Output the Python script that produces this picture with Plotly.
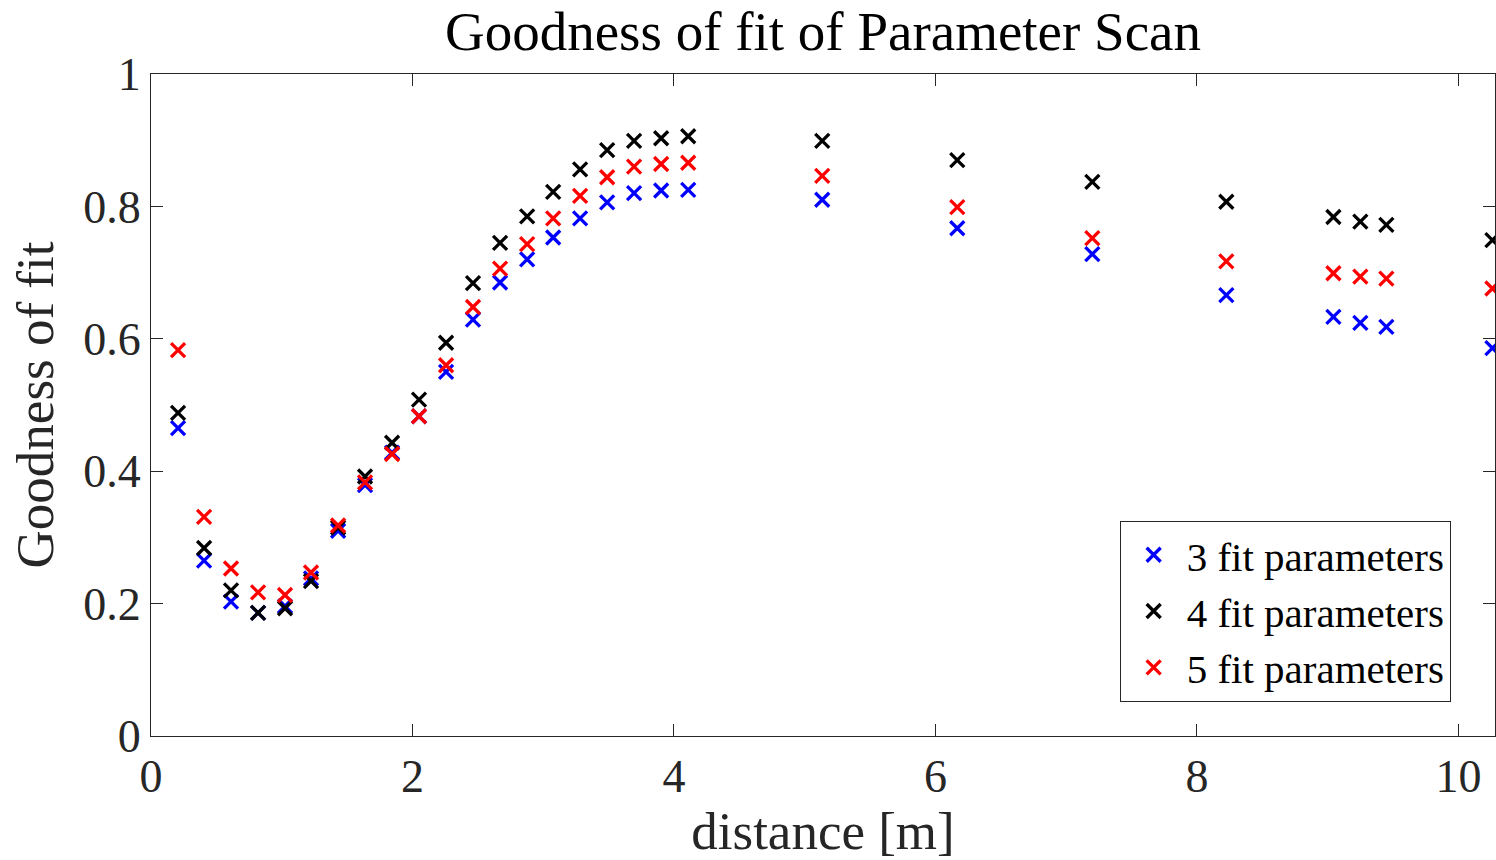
import plotly.graph_objects as go

distance = [0.207, 0.406, 0.612, 0.819, 1.025, 1.224, 1.431, 1.637, 1.844, 2.050,
            2.257, 2.463, 2.670, 2.877, 3.076, 3.282, 3.489, 3.695, 3.902, 4.109,
            5.134, 6.167, 7.200, 8.225, 9.044, 9.250, 9.449, 10.26]

fit3 = [0.465, 0.265, 0.203, 0.186, 0.196, 0.238, 0.310, 0.379, 0.428, 0.483,
        0.550, 0.629, 0.685, 0.720, 0.753, 0.782, 0.806, 0.820, 0.824, 0.825,
        0.810, 0.767, 0.728, 0.666, 0.633, 0.624, 0.618, 0.586]

fit4 = [0.488, 0.284, 0.220, 0.186, 0.193, 0.234, 0.315, 0.392, 0.443, 0.508,
        0.594, 0.684, 0.745, 0.785, 0.822, 0.856, 0.885, 0.899, 0.903, 0.906,
        0.899, 0.870, 0.837, 0.807, 0.784, 0.777, 0.772, 0.749]

fit5 = [0.583, 0.331, 0.253, 0.217, 0.213, 0.247, 0.318, 0.383, 0.426, 0.483,
        0.560, 0.648, 0.706, 0.743, 0.782, 0.816, 0.844, 0.860, 0.864, 0.866,
        0.846, 0.799, 0.752, 0.717, 0.699, 0.694, 0.691, 0.676]

series_names = ["3 fit parameters", "4 fit parameters", "5 fit parameters"]
series_colors = ["#0000ff", "#000000", "#ff0000"]

x_tickvals = [0, 2, 4, 6, 8, 10]
x_ticktext = ["0", "2", "4", "6", "8", "10"]
y_tickvals = [0, 0.2, 0.4, 0.6, 0.8, 1]
y_ticktext = ["0", "0.2", "0.4", "0.6", "0.8", "1"]

FONT = "Liberation Serif"
AX = "#262626"

fig = go.Figure()
for name, ys, col in zip(series_names, [fit3, fit4, fit5], series_colors):
    fig.add_trace(go.Scatter(
        x=distance, y=ys, mode="markers", name=name,
        marker=dict(symbol="x-thin", size=14, color=col,
                    line=dict(color=col, width=3.3)),
        cliponaxis=True,
    ))

axis_common = dict(
    showline=True, linecolor=AX, linewidth=1, mirror="ticks",
    ticks="inside", ticklen=12, tickwidth=1, tickcolor=AX,
    showgrid=False, zeroline=False,
    tickfont=dict(family=FONT, size=46, color=AX),
)

fig.update_layout(
    width=1496, height=860,
    margin=dict(l=151, r=1, t=74, b=124),
    paper_bgcolor="white", plot_bgcolor="white",
    title=dict(text="Goodness of fit of Parameter Scan", x=0.5, xref="paper",
               y=1 - 31 / 860, yref="container", yanchor="middle", xanchor="center",
               font=dict(family=FONT, size=55, color="#000000")),
    xaxis=dict(range=[0, 10.28], tickvals=x_tickvals, ticktext=x_ticktext,
               title=dict(text="distance [m]", standoff=9,
                          font=dict(family=FONT, size=53, color=AX)),
               **axis_common),
    yaxis=dict(range=[0, 1], tickvals=y_tickvals, ticktext=y_ticktext,
               title=dict(text="Goodness of fit", standoff=12,
                          font=dict(family=FONT, size=53, color=AX)),
               **axis_common),
    legend=dict(x=0.967, y=0.052, xanchor="right", yanchor="bottom",
                bgcolor="white", bordercolor=AX, borderwidth=1,
                font=dict(family=FONT, size=41, color="#000000"),
                itemwidth=56, tracegroupgap=0),
    showlegend=True,
)

fig.write_html("out.html")
